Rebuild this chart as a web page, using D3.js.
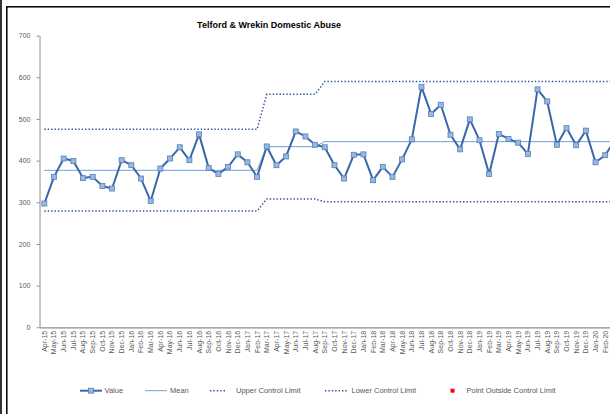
<!DOCTYPE html>
<html>
<head>
<meta charset="utf-8">
<script src="https://cdn.jsdelivr.net/npm/d3@7"></script>
<style>
body { margin: 0; background: #fff; }
text { font-family: "Liberation Sans", Arial, sans-serif; }
</style>
</head>
<body>
<div id="chartDiv"></div>
<script>
var width = 610;
var height = 414;

var chartTitle = "Telford & Wrekin Domestic Abuse";

var months = ["Apr-15","May-15","Jun-15","Jul-15","Aug-15","Sep-15","Oct-15","Nov-15","Dec-15",
    "Jan-16","Feb-16","Mar-16","Apr-16","May-16","Jun-16","Jul-16","Aug-16","Sep-16","Oct-16","Nov-16","Dec-16",
    "Jan-17","Feb-17","Mar-17","Apr-17","May-17","Jun-17","Jul-17","Aug-17","Sep-17","Oct-17","Nov-17","Dec-17",
    "Jan-18","Feb-18","Mar-18","Apr-18","May-18","Jun-18","Jul-18","Aug-18","Sep-18","Oct-18","Nov-18","Dec-18",
    "Jan-19","Feb-19","Mar-19","Apr-19","May-19","Jun-19","Jul-19","Aug-19","Sep-19","Oct-19","Nov-19","Dec-19",
    "Jan-20","Feb-20","Mar-20"];

// only these labels fall inside the visible frame
var visibleLabels = months.slice(0, 59);

var values = [297, 361, 405, 399, 358, 361, 339, 333, 401,
    389, 357, 303, 381, 405, 432, 401, 463, 382, 368, 385, 415,
    396, 361, 434, 389, 410, 470, 458, 438, 432, 389, 357, 414,
    415, 353, 385, 361, 403, 451, 577, 512, 534, 462, 427, 499,
    449, 368, 464, 452, 443, 416, 571, 542, 438, 478, 437, 472,
    396, 413, 449];

// control chart phases: first month index of each phase
var phaseStart = [0, 23, 29];
var phaseMean = [376.7, 433.5, 445.5];
var phaseUCL = [475, 559, 590];
var phaseLCL = [279, 308, 301];

var yTicks = [0, 100, 200, 300, 400, 500, 600, 700];

var legendItems = ["Value", "Mean", "Upper Control Limit", "Lower Control Limit", "Point Outside Control Limit"];

var valueColor = "#3a67a8";
var markerFill = "#9bb7dd";
var meanColor = "#6f9fd8";
var limitColor = "#2f5597";
var axisColor = "#8c8c8c";
var labelColor = "#595959";

function phaseOf(i) {
    var p = 0;
    for (var k = 0; k < phaseStart.length; k++) {
        if (i >= phaseStart[k]) p = k;
    }
    return p;
}

var data = months.map(function(m, i) {
    var p = phaseOf(i);
    return { month: m, value: values[i], mean: phaseMean[p], ucl: phaseUCL[p], lcl: phaseLCL[p] };
});

var plot = { left: 39.5, right: 619.7, top: 35.6, bottom: 327.3 };

var x = d3.scaleBand().domain(months).range([plot.left, plot.right]).padding(0);
var y = d3.scaleLinear().domain([0, 700]).range([plot.bottom, plot.top]);

function cx(d) { return x(d.month) + x.bandwidth() / 2; }

var chart = d3.select("#chartDiv").append("svg")
    .attr("width", width)
    .attr("height", height);

// outer frame lines
chart.append("line")
    .attr("x1", 1).attr("x2", 1).attr("y1", 0).attr("y2", height)
    .attr("stroke", "#000").attr("stroke-width", 1.6);
chart.append("rect")
    .attr("x", 6.8).attr("y", 6.8)
    .attr("width", width + 20).attr("height", height + 20)
    .attr("fill", "none").attr("stroke", "#000").attr("stroke-width", 1.5);

// title
chart.append("text")
    .attr("x", 269)
    .attr("y", 28)
    .attr("text-anchor", "middle")
    .style("font-size", "9px")
    .style("font-weight", "bold")
    .attr("fill", "#000")
    .text(chartTitle);

// y axis
var yAxis = d3.axisLeft(y).tickValues(yTicks).tickSize(3).tickSizeOuter(0);
var yg = chart.append("g")
    .attr("transform", "translate(" + plot.left + ",0)")
    .call(yAxis);
yg.select(".domain").attr("stroke", axisColor);
yg.selectAll(".tick line").attr("stroke", axisColor);
yg.selectAll(".tick text")
    .attr("x", -9)
    .attr("fill", labelColor)
    .style("font-size", "7px")
    .style("font-family", "Liberation Sans, Arial, sans-serif");

// x axis
var xAxis = d3.axisBottom(x).tickValues(visibleLabels).tickSize(0).tickSizeOuter(0);
var xg = chart.append("g")
    .attr("transform", "translate(0," + plot.bottom + ")")
    .call(xAxis);
xg.select(".domain").attr("stroke", axisColor).attr("stroke-width", 1.2);
xg.selectAll(".tick text")
    .attr("transform", "rotate(-90)")
    .attr("x", -3.5)
    .attr("y", 0)
    .attr("dy", "0.35em")
    .attr("text-anchor", "end")
    .attr("fill", labelColor)
    .style("font-size", "7px")
    .style("font-family", "Liberation Sans, Arial, sans-serif");

// control limits and mean
var line = function(key) {
    return d3.line().x(cx).y(function(d) { return y(d[key]); });
};

chart.append("path")
    .datum(data)
    .attr("fill", "none")
    .attr("stroke", limitColor)
    .attr("stroke-width", 1.5)
    .attr("stroke-dasharray", "1.4,2")
    .attr("d", line("ucl"));

chart.append("path")
    .datum(data)
    .attr("fill", "none")
    .attr("stroke", limitColor)
    .attr("stroke-width", 1.5)
    .attr("stroke-dasharray", "1.4,2")
    .attr("d", line("lcl"));

chart.append("path")
    .datum(data)
    .attr("fill", "none")
    .attr("stroke", meanColor)
    .attr("stroke-width", 1)
    .attr("d", line("mean"));

// value series
chart.append("path")
    .datum(data)
    .attr("fill", "none")
    .attr("stroke", valueColor)
    .attr("stroke-width", 2)
    .attr("stroke-linejoin", "round")
    .attr("d", line("value"));

chart.selectAll(".dot")
    .data(data)
    .enter().append("rect")
    .attr("class", "dot")
    .attr("x", function(d) { return cx(d) - 2.5; })
    .attr("y", function(d) { return y(d.value) - 2.5; })
    .attr("width", 5)
    .attr("height", 5)
    .attr("fill", markerFill)
    .attr("stroke", "#4f81bd")
    .attr("stroke-width", 0.8);

// legend
var legendY = 390.7;
var lg = chart.append("g").attr("class", "legend");

// Value
lg.append("line").attr("x1", 80).attr("x2", 102).attr("y1", legendY).attr("y2", legendY)
    .attr("stroke", valueColor).attr("stroke-width", 2);
lg.append("rect").attr("x", 88.5).attr("y", legendY - 2.5).attr("width", 5).attr("height", 5)
    .attr("fill", markerFill).attr("stroke", "#4f81bd").attr("stroke-width", 0.8);
// Mean
lg.append("line").attr("x1", 145).attr("x2", 167).attr("y1", legendY).attr("y2", legendY)
    .attr("stroke", meanColor).attr("stroke-width", 1);
// UCL
lg.append("line").attr("x1", 210).attr("x2", 226).attr("y1", legendY).attr("y2", legendY)
    .attr("stroke", limitColor).attr("stroke-width", 1.5).attr("stroke-dasharray", "1.4,2");
// LCL
lg.append("line").attr("x1", 325).attr("x2", 348).attr("y1", legendY).attr("y2", legendY)
    .attr("stroke", limitColor).attr("stroke-width", 1.5).attr("stroke-dasharray", "1.4,2");
// outside point
lg.append("rect").attr("x", 450.5).attr("y", legendY - 2).attr("width", 4).attr("height", 4)
    .attr("fill", "#ff0000");

var legendTextX = [104.5, 170, 236, 351.5, 466.5];
lg.selectAll(".legend-text")
    .data(legendItems)
    .enter().append("text")
    .attr("class", "legend-text")
    .attr("x", function(d, i) { return legendTextX[i]; })
    .attr("y", legendY)
    .attr("dy", "0.35em")
    .attr("fill", labelColor)
    .style("font-size", "7.5px")
    .text(function(d) { return d; });
</script>
</body>
</html>
